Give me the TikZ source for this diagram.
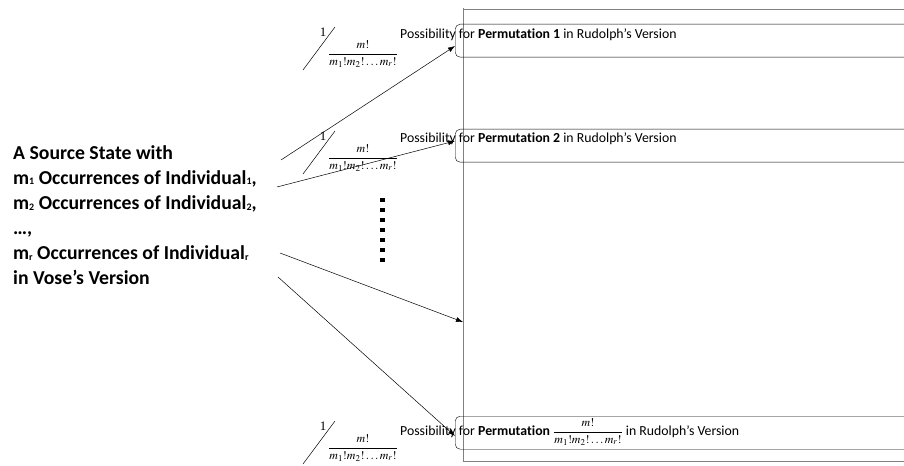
\documentclass[tikz,border=0pt]{standalone}
\usetikzlibrary{arrows.meta}
\usepackage{fontspec}
\usepackage{mathptmx}
\setmainfont{Carlito}[Ligatures={NoCommon}]
\newfontfamily\timesf{Liberation Serif}
\newcommand{\smallsub}[1]{\raisebox{-0.8pt}{\fontsize{10}{10}\selectfont #1}}
\begin{document}
\begin{tikzpicture}[x=1bp,y=-1bp,
  frame/.style={draw=black!50, line width=0.8pt},
  rowbox/.style={draw, rounded corners=5pt, minimum width=500bp, minimum height=33bp, anchor=north west, inner sep=0pt},
  rowtext/.style={anchor=west, font=\fontsize{13.85}{15}\selectfont, inner sep=0pt},
  arr/.style={-{Latex[length=7pt,width=5pt]}, line width=0.5pt},
  frac/.style={font=\fontsize{12}{14}\selectfont, inner sep=0pt},
  one/.style={font=\fontsize{13}{15}\timesf, inner sep=0pt}]
\useasboundingbox (0,0) rectangle (904,466);
% frame
\draw[frame] (463,8) -- (463,461) -- (904,461);
\draw[frame] (463,9) -- (904,9);
% boxes
\node[rowbox] (b1) at (455,24) {};
\node[rowbox] (b2) at (455,129) {};
\node[rowbox] (b3) at (455,416) {};
\coordinate (mid) at (463,322);
% row texts
\node[rowtext] (t1) at (400,35) {Possibility for \textbf{Permutation 1} in Rudolph’s Version};
\node[rowtext] (t2) at (400,139) {Possibility for \textbf{Permutation 2} in Rudolph’s Version};
\node[rowtext] (t3) at (400,432) {Possibility for \textbf{Permutation} {\fontsize{12}{14}\selectfont$\displaystyle\frac{m!}{m_1!m_2!\ldots m_r!}$} in Rudolph’s Version};
% source
\node[anchor=north west, align=left, font=\fontsize{19.8}{25.2}\selectfont\bfseries, inner sep=0pt] (src) at (13,145)
{A Source State with\\
m\smallsub{1} Occurrences of Individual\smallsub{1},\\
m\smallsub{2} Occurrences of Individual\smallsub{2},\\
…,\\
m\smallsub{r} Occurrences of Individual\smallsub{r}\\
in Vose’s Version};
% arrow starts
\coordinate (s1) at (281,160);
\coordinate (s2) at (277,187);
\coordinate (s3) at (280,253);
\coordinate (s4) at (278,277);
\coordinate (e1) at (455,46);
\coordinate (e2) at (455,141);
\coordinate (e4) at (455,436);
\draw[arr] (s1) -- (e1);
\draw[arr] (s2) -- (e2);
\draw[arr] (s3) -- (mid);
\draw[arr] (s4) -- (e4);
% fraction labels
\foreach \i/\y in {1/0,2/104,3/394}{
  \node[one] (one\i) at (323,32+\y) {1};
  \draw[line width=0.5pt] (303,70+\y) -- (335,27+\y);
  \node[frac] (f\i) at (363,54+\y) {$\displaystyle\frac{m!}{m_1!m_2!\ldots m_r!}$};
}
% dots
\foreach \k in {0,...,6}{
  \fill (380,198+10*\k) rectangle (384.5,202.5+10*\k);
}
\end{tikzpicture}
\end{document}
